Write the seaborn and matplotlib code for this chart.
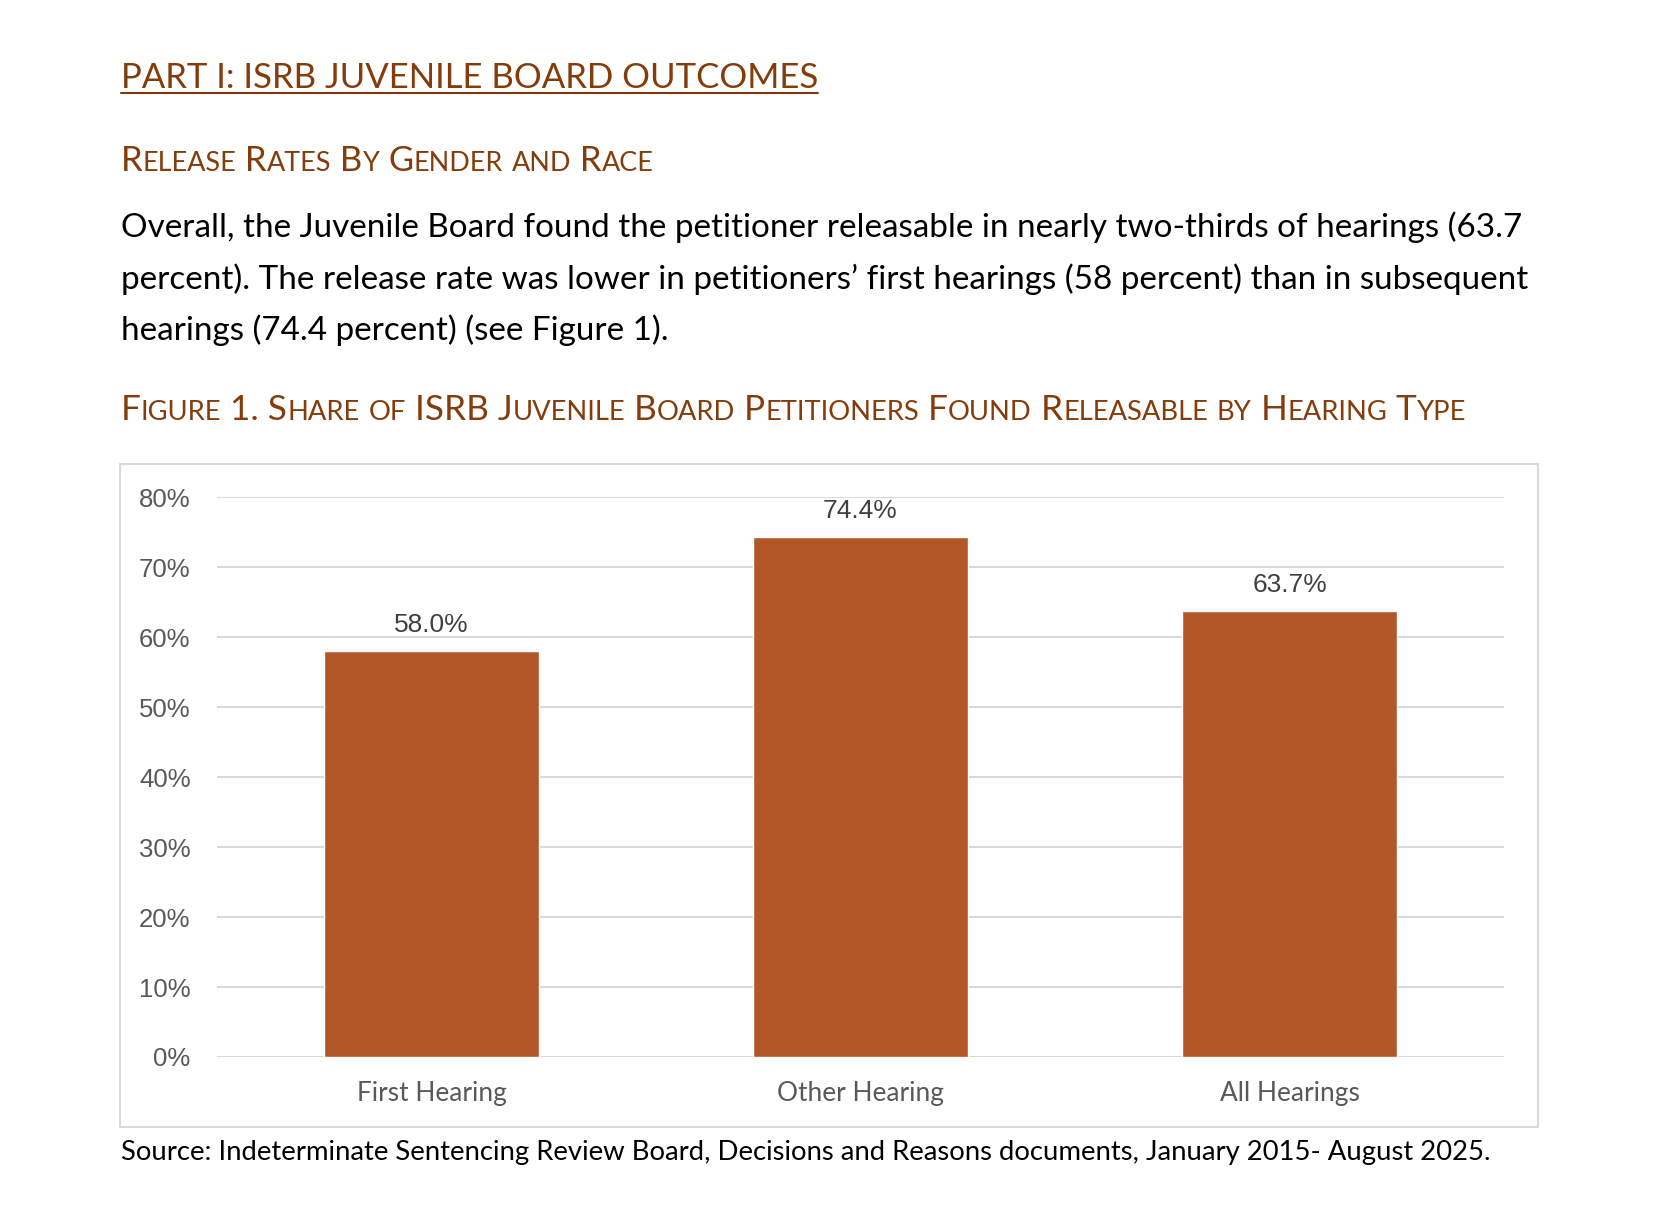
import re
import matplotlib
matplotlib.use("Agg")
import matplotlib.pyplot as plt
import seaborn as sns
from matplotlib.font_manager import FontProperties
from matplotlib.ticker import PercentFormatter
from matplotlib.patches import Rectangle
from matplotlib.lines import Line2D

# Data
categories = ["First Hearing", "Other Hearing", "All Hearings"]
release_share = [0.580, 0.744, 0.637]
y_ticks = [0.0, 0.1, 0.2, 0.3, 0.4, 0.5, 0.6, 0.7, 0.8]

heading = "PART I: ISRB JUVENILE BOARD OUTCOMES"
subheading = "Release Rates By Gender and Race"
paragraph = [
    "Overall, the Juvenile Board found the petitioner releasable in nearly two-thirds of hearings (63.7",
    "percent). The release rate was lower in petitioners\u2019 first hearings (58 percent) than in subsequent",
    "hearings (74.4 percent) (see Figure 1).",
]
caption = "Figure 1. Share of ISRB Juvenile Board Petitioners Found Releasable by Hearing Type"
source = "Source: Indeterminate Sentencing Review Board, Decisions and Reasons documents, January 2015- August 2025."

# Style
W, H = 1666, 1228
BROWN = "#843C0C"
BAR = "#B25728"
GRID = "#D9D9D9"
BODY = ["Lato", "DejaVu Sans"]
ARIAL = ["Liberation Sans", "DejaVu Sans"]

sns.set_style("white")
plt.rcParams["font.family"] = BODY

fig = plt.figure(figsize=(W / 100, H / 100), dpi=100)
renderer = fig.canvas.get_renderer()


def fx(x):
    return x / W


def fy(y):
    return 1 - y / H


def text_w(s, size, family):
    prop = FontProperties(family=family, size=size)
    w, h, d = renderer.get_text_width_height_descent(s, prop, ismath=False)
    return w


def advance(s, size, family=BODY):
    # bars on both sides so leading/trailing spaces count
    return text_w("|" + s + "|", size, family) - text_w("||", size, family)


def fit(s, target, family=BODY, ref=20.0):
    return ref * target / advance(s, ref, family)


def small_caps(x, y, s, target, color, ratio=0.78, ref=20.0):
    runs = re.findall(r"[a-z]+|[^a-z]+", s)
    parts = [(r.upper(), ratio if r.islower() else 1.0) for r in runs]
    total = sum(advance(t, ref * k) for t, k in parts)
    size = ref * target / total
    pen = x
    for t, k in parts:
        fig.text(fx(pen), fy(y), t, fontsize=size * k, color=color,
                 va="baseline", ha="left", family=BODY)
        pen += advance(t, size * k)


# Heading with underline
hs = fit(heading, 697)
fig.text(fx(121), fy(88), heading, fontsize=hs, color=BROWN, va="baseline")
fig.add_artist(Line2D([fx(121), fx(121 + advance(heading, hs))], [fy(93), fy(93)],
                      transform=fig.transFigure, color=BROWN, lw=1.5))

small_caps(121, 171, subheading, 533, BROWN)

ps = (fit(paragraph[0], 1400) + fit(paragraph[1], 1417)) / 2
for line, base in zip(paragraph, [237, 289, 340]):
    fig.text(fx(121), fy(base), line, fontsize=ps, color="black", va="baseline")

small_caps(121, 420, caption, 1346, BROWN)

fig.text(fx(121), fy(1160), source, fontsize=fit(source, 1372), color="black", va="baseline")

# Chart frame
fig.add_artist(Rectangle((fx(120), fy(1127)), (1538 - 120) / W, (1127 - 464) / H,
                         transform=fig.transFigure, fill=False, ec=GRID, lw=1.5))

ax = fig.add_axes([fx(217), fy(1057), (1504 - 217) / W, (1057 - 497) / H])
sns.barplot(x=categories, y=release_share, color=BAR, saturation=1, width=0.5, ax=ax)

ax.set_ylim(0, 0.8005)
ax.set_xlim(-0.5, 2.5)
ax.set_yticks(y_ticks)
ax.yaxis.set_major_formatter(PercentFormatter(1.0, decimals=0))
ax.yaxis.grid(True, color=GRID, lw=1.5)
ax.set_axisbelow(True)
for sp in ax.spines.values():
    sp.set_visible(False)
ax.set_xlabel("")
ax.set_ylabel("")

ax.tick_params(axis="y", length=0, pad=19, labelsize=18.5, labelcolor="#595959")
for lab in ax.get_yticklabels():
    lab.set_family(ARIAL)
ax.tick_params(axis="x", length=0, pad=17, labelsize=fit("First Hearing", 150),
               labelcolor="#595959")

ax.bar_label(ax.containers[0], labels=[f"{v * 100:.1f}%" for v in release_share],
             padding=10, fontsize=19, color="#404040", family=ARIAL)

fig.savefig("out.png", dpi=100)
